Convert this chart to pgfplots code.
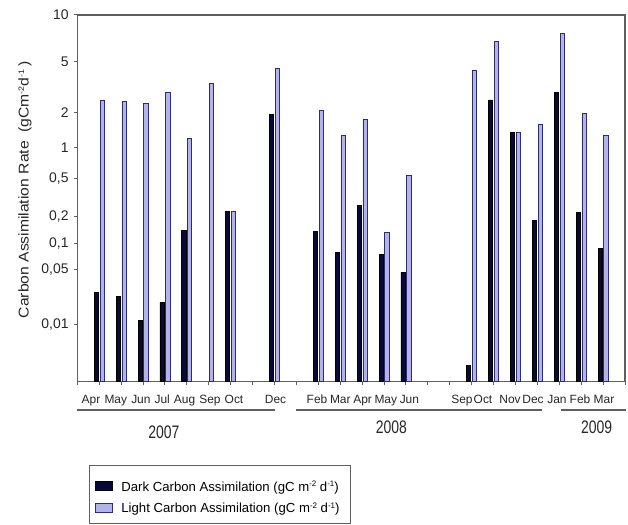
\documentclass[border=0pt]{standalone}
\usepackage{pgfplots}
\pgfplotsset{compat=1.18}
\usepackage{pgfplotstable}
\usepackage{fontspec}
\setmainfont{Liberation Sans}
\usepackage{graphicx}
\definecolor{darkbar}{RGB}{8,8,58}
\definecolor{lightbar}{RGB}{178,178,238}
\definecolor{lightedge}{RGB}{45,45,105}
\definecolor{framegray}{RGB}{95,95,95}

% month index: Apr 2007 = 1 ... Mar 2009 = 24
\pgfplotstableread{
x v
1 0.0252
2 0.0224
3 0.0112
4 0.0190
5 0.140
7 0.227
9 1.95
11 0.1365
12 0.0792
13 0.261
14 0.0742
15 0.0458
18 0.0030
19 2.52
20 1.35
21 0.184
22 2.90
23 0.224
24 0.089
}\darktab

\pgfplotstableread{
x v
1 2.52
2 2.47
3 2.38
4 2.87
5 1.20
6 3.39
7 0.227
9 4.44
11 2.11
12 1.29
13 1.75
14 0.133
15 0.539
18 4.29
19 6.71
20 1.37
21 1.60
22 7.56
23 1.99
24 1.28
}\lighttab

\newcommand{\sups}[1]{\raisebox{4.5bp}{\fontsize{8}{8}\selectfont #1}}

\begin{document}
\begin{tikzpicture}[
  declare function={
    lgt(\vv)=ln(\vv)/ln(10);
    Hl(\lgv)=ifthenelse((\lgv)<(-1.301),57.4+78.68*((\lgv)+2),
             ifthenelse((\lgv)<(-1),112.4+85.05*((\lgv)+1.301),
             ifthenelse((\lgv)<(-0.699),138+88.7*((\lgv)+1),
             ifthenelse((\lgv)<(-0.301),164.7+97.24*((\lgv)+0.699),
             ifthenelse((\lgv)<0,203.4+100.66*((\lgv)+0.301),
             ifthenelse((\lgv)<0.301,233.7+116.28*(\lgv),
             ifthenelse((\lgv)<0.699,268.7+129.9*((\lgv)-0.301),
             320.4+153.8*((\lgv)-0.699))))))));
    H(\vv)=Hl(lgt(\vv));
  }]
\useasboundingbox (0bp,0bp) rectangle (628bp,525bp);
\begin{axis}[
  at={(77.3bp,143.3bp)}, anchor=south west,
  scale only axis, width=547.7bp, height=366.7bp,
  xmin=0, xmax=25, ymin=0, ymax=366.7,
  axis line style={framegray, line width=1.4bp},
  xtick={0,...,25}, xticklabels={},
  ytick={57.4,112.4,138,164.7,203.4,233.7,268.7,320.4,366.7},
  yticklabels={{0,01},{0,05},{0,1},{0,2},{0,5},1,2,5,10},
  tick align=outside, major tick length=3.5bp,
  xtick pos=bottom, ytick pos=left,
  tick style={framegray, line width=1bp},
  yticklabel style={font=\fontsize{14}{14}\selectfont, color=black!85, inner sep=0pt, xshift=-5bp},
  legend style={at={(0.0322,-0.2706)}, anchor=north west, draw=none, fill=none,
    inner sep=0pt, row sep=10bp, column sep=8.8bp,
    font=\fontsize{13.2}{13.2}\selectfont,
    cells={anchor=base west}, nodes={inner sep=0pt}},
]
\addplot[ybar, bar width=4.2bp, bar shift=-2.9bp, fill=darkbar, draw=black, line width=0.8bp,
  legend image code/.code={\draw[fill=darkbar, draw=black, line width=0.8bp] (0bp,0.7bp) rectangle (16.7bp,9.4bp);}]
  table[x=x, y expr={H(\thisrow{v})}] {\darktab};
\addlegendentry{Dark Carbon Assimilation (gC m\sups{-2} d\sups{-1})}
\addplot[ybar, bar width=4.2bp, bar shift=2.9bp, fill=lightbar, draw=lightedge, line width=0.8bp,
  legend image code/.code={\draw[fill=lightbar, draw=lightedge, line width=0.8bp] (0bp,0.7bp) rectangle (16.7bp,9.4bp);}]
  table[x=x, y expr={H(\thisrow{v})}] {\lighttab};
\addlegendentry{Light Carbon Assimilation (gC m\sups{-2} d\sups{-1})}
\end{axis}

% y axis title
\node[rotate=90, anchor=base, inner sep=0pt, color=black!85] at (28.5bp,335bp)
  {\scalebox{1.11}[1]{\fontsize{14.2}{14.2}\selectfont Carbon Assimilation Rate\ \ (gCm\sups{-2}d\sups{-1}\,)}};

% month labels
\begin{scope}[every node/.style={anchor=base, inner sep=0pt, font=\fontsize{12}{12}\selectfont, color=black!85}]
\node at (91.0bp,121bp) {Apr};
\node at (115.8bp,121bp) {May};
\node at (140.9bp,121bp) {Jun};
\node at (162.2bp,121bp) {Jul};
\node at (184.6bp,121bp) {Aug};
\node at (210.0bp,121bp) {Sep};
\node at (234.0bp,121bp) {Oct};
\node at (275.5bp,121bp) {Dec};
\node at (317.0bp,121bp) {Feb};
\node at (340.3bp,121bp) {Mar};
\node at (362.6bp,121bp) {Apr};
\node at (385.8bp,121bp) {May};
\node at (409.4bp,121bp) {Jun};
\node at (462bp,121bp) {Sep};
\node at (483bp,121bp) {Oct};
\node at (510bp,121bp) {Nov};
\node at (533bp,121bp) {Dec};
\node at (557bp,121bp) {Jan};
\node at (580bp,121bp) {Feb};
\node at (604bp,121bp) {Mar};
\end{scope}

% year grouping lines and labels
\draw[framegray, line width=1.4bp] (77.3bp,115bp) -- (275bp,115bp);
\draw[framegray, line width=1.4bp] (296bp,115bp) -- (542bp,115bp);
\draw[framegray, line width=1.4bp] (560.7bp,115bp) -- (626bp,115bp);
\begin{scope}[every node/.style={anchor=base, inner sep=0pt, color=black!85}]
\node at (163.8bp,86.7bp) {\scalebox{1}[1.3]{\fontsize{14}{14}\selectfont 2007}};
\node at (391.3bp,91.5bp) {\scalebox{1}[1.3]{\fontsize{14}{14}\selectfont 2008}};
\node at (596.7bp,91bp) {\scalebox{1}[1.3]{\fontsize{14}{14}\selectfont 2009}};
\end{scope}

% legend frame
\draw[framegray, line width=1bp] (89bp,1.5bp) rectangle (350bp,59.3bp);
\end{tikzpicture}
\end{document}
